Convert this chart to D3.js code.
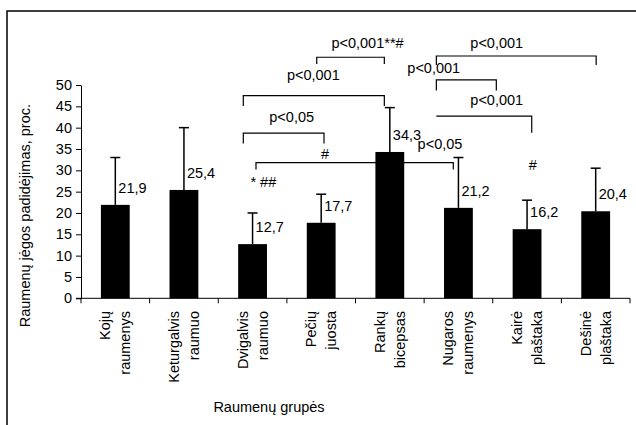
<!DOCTYPE html>
<html>
<head>
<meta charset="utf-8">
<script src="https://cdn.jsdelivr.net/npm/d3@7/dist/d3.min.js"></script>
<style>
  html, body { margin: 0; padding: 0; background: #fff; }
  svg text { font-family: "Liberation Sans", Arial, sans-serif; fill: #000; }
</style>
</head>
<body>
<svg id="chart" width="636" height="425"></svg>
<script>
// Muscle groups (two-line labels) and mean strength gain, %
const categories = [
  ["Kojų", "raumenys"],
  ["Keturgalvis", "raumuo"],
  ["Dvigalvis", "raumuo"],
  ["Pečių", "juosta"],
  ["Rankų", "bicepsas"],
  ["Nugaros", "raumenys"],
  ["Kairė", "plaštaka"],
  ["Dešinė", "plaštaka"]
];
const values = [21.9, 25.4, 12.7, 17.7, 34.3, 21.2, 16.2, 20.4];
const valueLabels = ["21,9", "25,4", "12,7", "17,7", "34,3", "21,2", "16,2", "20,4"];
const sd = [11.1, 14.6, 7.3, 6.7, 10.4, 11.8, 6.8, 10.1];
const yTicks = [0, 5, 10, 15, 20, 25, 30, 35, 40, 45, 50];

// Significance brackets: from/to in category units, level and leg end in %
const brackets = [
  { from: 2.935, to: 3.92,  level: 56.5, legL: 54.9, legR: 54.9 },
  { from: 1.865, to: 3.92,  level: 47.5, legL: 45.1, legR: 45.1 },
  { from: 1.865, to: 3.041, level: 38.7, legL: 36.3, legR: 36.3 },
  { from: 2.05,  to: 4.925, level: 31.8, legL: 30.2, legR: 30.2 },
  { from: 4.678, to: 7.007, level: 56.8, legL: 54.7, legR: 54.7 },
  { from: 4.678, to: 5.552, level: 51.2, legL: 48.7, legR: 48.7 },
  { from: 4.678, to: 6.068, level: 42.7, legL: null, legR: 38.8 }
];
const notes = [
  { at: 3.675, level: 59.9, text: "p<0,001**#" },
  { at: 2.885, level: 52.3, text: "p<0,001" },
  { at: 2.57,  level: 42.4, text: "p<0,05" },
  { at: 3.056, level: 33.75, text: "#" },
  { at: 2.157, level: 27.3, text: "* ##" },
  { at: 4.731, level: 36.3, text: "p<0,05" },
  { at: 5.558, level: 59.9, text: "p<0,001" },
  { at: 4.64,  level: 53.9, text: "p<0,001" },
  { at: 5.558, level: 46.6, text: "p<0,001" },
  { at: 6.082, level: 31.2, text: "#" }
];

const svg = d3.select("#chart");
const fs = 14.5;

const plot = { left: 81, right: 630, top: 85, bottom: 298.3 };

const x = d3.scaleBand()
  .domain(d3.range(categories.length))
  .range([plot.left, plot.right])
  .paddingInner(0).paddingOuter(0);
// continuous position in category units (0 = centre of first group)
const xc = d3.scaleLinear()
  .domain([-0.5, categories.length - 0.5])
  .range([plot.left, plot.right]);
const y = d3.scaleLinear().domain([0, 50]).range([plot.bottom, plot.top]);

const barW = x.bandwidth() * 0.42;

// outer frame
svg.append("rect")
  .attr("x", 7).attr("y", 11).attr("width", 700).attr("height", 500)
  .attr("fill", "none").attr("stroke", "#000").attr("stroke-width", 1.5);

// significance brackets (drawn under the bars)
const br = svg.append("g").attr("fill", "none").attr("stroke", "#000").attr("stroke-width", 1.2);
brackets.forEach(b => {
  const x0 = xc(b.from), x1 = xc(b.to), yl = y(b.level);
  const p = d3.path();
  if (b.legL !== null) { p.moveTo(x0, y(b.legL)); p.lineTo(x0, yl); } else { p.moveTo(x0, yl); }
  p.lineTo(x1, yl);
  if (b.legR !== null) p.lineTo(x1, y(b.legR));
  br.append("path").attr("d", p.toString());
});

// bars
svg.append("g").selectAll("rect")
  .data(values)
  .join("rect")
  .attr("x", (d, i) => x(i) + (x.bandwidth() - barW) / 2)
  .attr("y", d => y(d))
  .attr("width", barW)
  .attr("height", d => y(0) - y(d))
  .attr("fill", "#000");

// upper error bars
const eb = svg.append("g").attr("stroke", "#000").attr("stroke-width", 1.5);
values.forEach((v, i) => {
  const cx = x(i) + x.bandwidth() / 2;
  eb.append("line").attr("x1", cx).attr("x2", cx).attr("y1", y(v)).attr("y2", y(v + sd[i]));
  eb.append("line").attr("x1", cx - 5).attr("x2", cx + 5).attr("y1", y(v + sd[i])).attr("y2", y(v + sd[i]));
});

// value labels
svg.append("g").selectAll("text")
  .data(values)
  .join("text")
  .attr("x", (d, i) => x(i) + x.bandwidth() / 2 + 3)
  .attr("y", d => y(d) - 17)
  .attr("dy", "0.35em")
  .attr("font-size", fs)
  .text((d, i) => valueLabels[i]);

// annotations
svg.append("g").selectAll("text")
  .data(notes)
  .join("text")
  .attr("x", d => xc(d.at))
  .attr("y", d => y(d.level))
  .attr("dy", "0.35em")
  .attr("text-anchor", "middle")
  .attr("font-size", fs)
  .text(d => d.text);

// y axis
const yAxis = svg.append("g")
  .attr("transform", `translate(${plot.left},0)`)
  .call(d3.axisLeft(y).tickValues(yTicks).tickSize(5).tickSizeOuter(0).tickPadding(4));
yAxis.selectAll("text").attr("font-size", fs).attr("font-family", "Liberation Sans, Arial, sans-serif");
yAxis.selectAll("line, path").attr("stroke", "#000");

// x axis with ticks on the group boundaries
const xa = svg.append("g").attr("stroke", "#000").attr("stroke-width", 1);
xa.append("line").attr("x1", plot.left - 5).attr("x2", plot.right).attr("y1", y(0)).attr("y2", y(0));
d3.range(categories.length + 1).forEach(i => {
  const bx = i < categories.length ? x(i) : x(categories.length - 1) + x.bandwidth();
  xa.append("line").attr("x1", bx).attr("x2", bx).attr("y1", y(0)).attr("y2", y(0) + 5);
});

// rotated two-line category labels
const cl = svg.append("g");
categories.forEach((lines, i) => {
  const cx = x(i) + x.bandwidth() / 2;
  lines.forEach((t, k) => {
    const lx = cx + (k === 0 ? -10 : 10) + 5;
    cl.append("text")
      .attr("transform", `translate(${lx},311) rotate(-90)`)
      .attr("text-anchor", "end")
      .attr("font-size", fs)
      .text(t);
  });
});

// axis titles
svg.append("text")
  .attr("transform", `translate(30,${(plot.top + plot.bottom) / 2 + 24}) rotate(-90)`)
  .attr("text-anchor", "middle")
  .attr("font-size", fs)
  .text("Raumenų jėgos padidėjimas, proc.");

svg.append("text")
  .attr("x", 269).attr("y", 407).attr("dy", "0.35em")
  .attr("text-anchor", "middle")
  .attr("font-size", fs)
  .text("Raumenų grupės");
</script>
</body>
</html>
